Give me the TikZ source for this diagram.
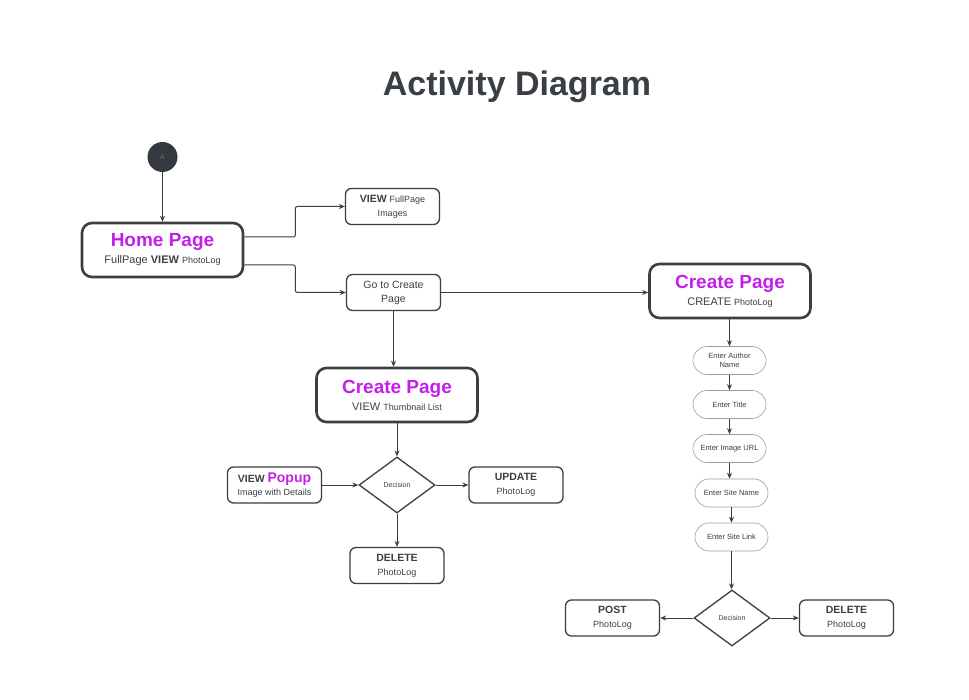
\documentclass[tikz,border=0pt]{standalone}
\usepackage{fontspec}
\setmainfont{Liberation Sans}
\usetikzlibrary{shapes.geometric,shapes.misc,arrows.meta}
\definecolor{ink}{HTML}{3A3F46}
\definecolor{mag}{HTML}{C41FE8}
\definecolor{stadline}{HTML}{9A9DA2}
\newcommand{\tsz}[1]{\fontsize{#1}{#1}\selectfont}
\tikzset{
  bigbox/.style={draw=ink, line width=2.6pt, rounded corners=10pt, minimum width=161pt, minimum height=54pt, align=center, text=ink, inner sep=2pt},
  smallbox/.style={draw=ink, line width=1.3pt, rounded corners=6pt, minimum width=94pt, minimum height=36pt, align=center, text=ink, inner sep=2pt},
  stad/.style={draw=stadline, line width=0.6pt, rounded rectangle, minimum width=75pt, minimum height=28pt, align=center, text=ink, inner sep=1pt, font=\tsz{7.5}},
  dec/.style={draw=ink, line width=1.3pt, diamond, minimum width=76pt, minimum height=56pt, inner sep=0pt, text=ink, font=\tsz{7}},
  arr/.style={draw=ink, line width=1pt, -{Stealth[length=6pt,width=5pt]}},
}
\begin{document}
\begin{tikzpicture}[x=1pt,y=-1pt]
\useasboundingbox[fill=white] (0,0) rectangle (969,700);
% title
\node[text=ink, font=\tsz{34}\bfseries] (title) at (517,87) {Activity Diagram};
% start
\node[circle, fill=ink!90!black, minimum size=30pt, inner sep=0pt, text=ink!75!white, font=\tsz{7}] (start) at (162.5,157) {A};
% home
\node[bigbox] (home) at (162.5,250) {{\tsz{19}\bfseries\color{mag}Home Page}\\[5pt]{\tsz{11}FullPage \textbf{VIEW} {\tsz{9}PhotoLog}}};
\node[smallbox] (view) at (392.5,206.5) {{\tsz{10.5}\textbf{VIEW} {\tsz{9}FullPage}}\\[2pt]{\tsz{9}Images}};
\node[smallbox] (goto) at (393.5,292.5) {{\tsz{10.5}Go to Create}\\[2pt]{\tsz{10.5}Page}};
\node[bigbox] (createR) at (730,291) {{\tsz{19}\bfseries\color{mag}Create Page}\\[5pt]{\tsz{11}CREATE {\tsz{9}PhotoLog}}};
\node[bigbox] (createM) at (397,395) {{\tsz{19}\bfseries\color{mag}Create Page}\\[5pt]{\tsz{11}VIEW {\tsz{9}Thumbnail List}}};
% middle decision
\node[dec] (dec1) at (397,485) {Decision};
\node[smallbox] (popup) at (274.5,485) {{\tsz{10.5}\textbf{VIEW} {\tsz{14}\bfseries\color{mag}Popup}}\\[1pt]{\tsz{9}Image with Details}};
\node[smallbox] (update) at (516,485) {{\tsz{10.5}\bfseries UPDATE}\\[2pt]{\tsz{9}PhotoLog}};
\node[smallbox] (delete1) at (397,565.5) {{\tsz{10.5}\bfseries DELETE}\\[2pt]{\tsz{9}PhotoLog}};
% right column
\node[stad] (author) at (729.5,360.5) {Enter Author\\[1pt]Name};
\node[stad] (etitle) at (729.5,404.5) {Enter Title};
\node[stad] (eurl) at (729.5,448.5) {Enter Image URL};
\node[stad] (ename) at (731.5,493) {Enter Site Name};
\node[stad] (elink) at (731.5,537) {Enter Site Link};
\node[dec] (dec2) at (732,618) {Decision};
\node[smallbox] (post) at (612.5,618) {{\tsz{10.5}\bfseries POST}\\[2pt]{\tsz{9}PhotoLog}};
\node[smallbox] (delete2) at (846.5,618) {{\tsz{10.5}\bfseries DELETE}\\[2pt]{\tsz{9}PhotoLog}};
% connectors
\draw[arr] (start) -- (start |- home.north);
\draw[arr, rounded corners=2pt] ([yshift=13pt]home.east) -- ++(51,0) |- (view.west);
\draw[arr, rounded corners=2pt] ([yshift=-15pt]home.east) -- ++(51,0) |- (goto.west);
\draw[arr] (goto.east) -- (goto.east -| createR.west);
\draw[arr] (goto.south) -- (goto.south |- createM.north);
\draw[arr] (createM.south) -- (dec1.north);
\draw[arr] (popup.east) -- (dec1.west);
\draw[arr] (dec1.east) -- (update.west);
\draw[arr] (dec1.south) -- (delete1.north);
\draw[arr] (createR.south -| author.north) -- (author.north);
\draw[arr] (author.south) -- (etitle.north);
\draw[arr] (etitle.south) -- (eurl.north);
\draw[arr] (eurl.south) -- (eurl.south |- ename.north);
\draw[arr] (ename.south) -- (elink.north);
\draw[arr] (elink.south) -- (elink.south |- dec2.north);
\draw[arr] (dec2.west) -- (post.east);
\draw[arr] (dec2.east) -- (delete2.west);
\end{tikzpicture}
\end{document}
